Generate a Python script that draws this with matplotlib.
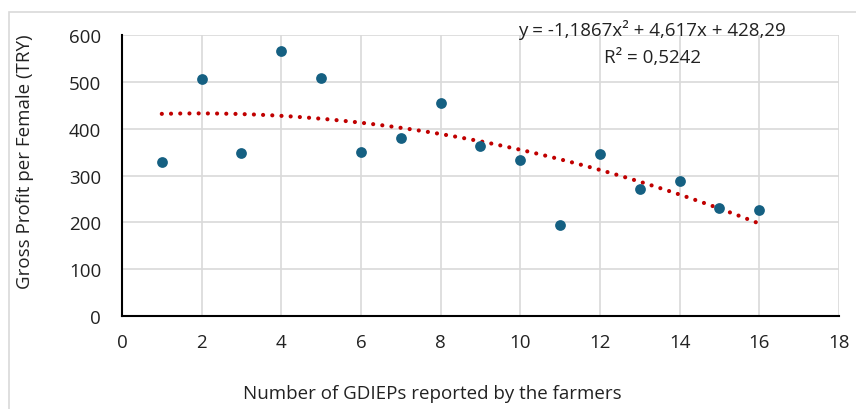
import matplotlib
matplotlib.use('Agg')
from matplotlib import pyplot as plt
from matplotlib.patches import Rectangle
import numpy as np

# data
gdieps = [1, 2, 3, 4, 5, 6, 7, 8, 9, 10, 11, 12, 13, 14, 15, 16]
profit = [329, 507, 349, 567, 508, 350, 380, 456, 363, 333, 194, 345, 271, 288, 231, 226]
eq_text = 'y = -1,1867x² + 4,617x + 428,29'
r2_text = 'R² = 0,5242'

plt.rcParams['font.family'] = ['Open Sans', 'DejaVu Sans']

fig = plt.figure(figsize=(8.56, 4.10), dpi=100)
ax = fig.add_axes([0.1425, 0.2268, 0.8375, 0.6852])

# quadratic trendline, fitted like Excel does
coef = np.polyfit(gdieps, profit, 2)
xt = np.linspace(min(gdieps), max(gdieps), 200)
ax.plot(xt, np.polyval(coef, xt), color='#C00000', lw=3.0,
        linestyle=(0, (0.01, 2.2)), dash_capstyle='round', zorder=2)

ax.scatter(gdieps, profit, s=60, color='#156082', zorder=3, linewidths=0)

ax.set_xlim(0, 18)
ax.set_ylim(0, 600)
ax.set_xticks(np.arange(0, 19, 2))
ax.set_yticks(np.arange(0, 601, 100))
ax.grid(True, color='#d9d9d9', lw=1.2)
ax.set_axisbelow(True)
for s in ['top', 'right']:
    ax.spines[s].set_visible(False)
for s in ['left', 'bottom']:
    ax.spines[s].set_linewidth(1.5)
    ax.spines[s].set_color('black')
ax.tick_params(length=0, labelsize=13.5, colors='#222222')
ax.tick_params(axis='y', pad=15)
ax.tick_params(axis='x', pad=12)

ax.set_xlabel('Number of GDIEPs reported by the farmers', fontsize=13.5,
              color='#222222')
ax.xaxis.set_label_coords(0.4325, -0.243)
ax.set_ylabel('Gross Profit per Female (TRY)', fontsize=13.5,
              color='#222222')
ax.yaxis.set_label_coords(-0.123, 0.552)

fig.text(652 / 856, 1 - 30 / 410, eq_text, fontsize=13.5, color='#222222',
         ha='center', va='center')
fig.text(652 / 856, 1 - 58 / 410, r2_text, fontsize=13.5, color='#222222',
         ha='center', va='center')

# chart frame
fig.patches.append(Rectangle((9 / 856, -0.1), 1.0, 1 - 13 / 410 + 0.1,
                             transform=fig.transFigure, fill=False,
                             edgecolor='#d9d9d9', lw=1.2))

plt.savefig('out.png', dpi=100)
